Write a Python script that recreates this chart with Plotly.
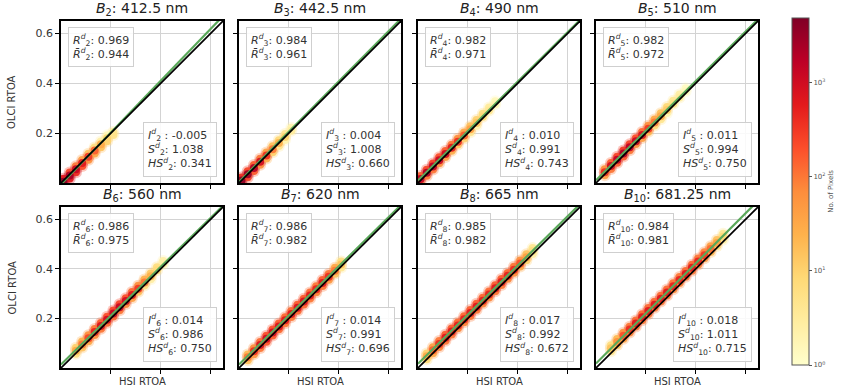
import plotly.graph_objects as go

# ---------------- data ----------------
band_ids = ["2", "3", "4", "5", "6", "7", "8", "10"]
wavelengths = ["412.5", "442.5", "490", "510", "560", "620", "665", "681.25"]
R_vals = [0.969, 0.984, 0.982, 0.982, 0.986, 0.986, 0.985, 0.984]
Rbar_vals = [0.944, 0.961, 0.971, 0.972, 0.975, 0.982, 0.982, 0.981]
I_vals = [-0.005, 0.004, 0.010, 0.011, 0.014, 0.014, 0.017, 0.018]
S_vals = [1.038, 1.008, 0.991, 0.994, 0.986, 0.991, 0.992, 1.011]
HS_vals = [0.341, 0.660, 0.743, 0.750, 0.750, 0.696, 0.672, 0.715]

# density cloud: HSI RTOA stations along the band, band centre offset (OLCI - HSI),
# lane offsets across the band and log10(pixel count) per lane
stations = [
    [0.01, 0.035, 0.06, 0.085, 0.11, 0.135, 0.16, 0.185, 0.21],
    [0.01, 0.035, 0.06, 0.085, 0.11, 0.135, 0.16, 0.185, 0.21],
    [0.01, 0.035, 0.06, 0.085, 0.11, 0.135, 0.16, 0.185, 0.21, 0.235, 0.26, 0.285, 0.31],
    [0.035, 0.06, 0.085, 0.11, 0.135, 0.16, 0.185, 0.21, 0.235, 0.26, 0.285, 0.31, 0.335, 0.36],
    [0.06, 0.085, 0.11, 0.135, 0.16, 0.185, 0.21, 0.235, 0.26, 0.285, 0.31, 0.335, 0.36, 0.385, 0.41],
    [0.035, 0.06, 0.085, 0.11, 0.135, 0.16, 0.185, 0.21, 0.235, 0.26, 0.285, 0.31, 0.335, 0.36, 0.385, 0.41],
    [0.035, 0.06, 0.085, 0.11, 0.135, 0.16, 0.185, 0.21, 0.235, 0.26, 0.285, 0.31, 0.335, 0.36, 0.385, 0.41, 0.435, 0.46],
    [0.06, 0.085, 0.11, 0.135, 0.16, 0.185, 0.21, 0.235, 0.26, 0.285, 0.31, 0.335, 0.36, 0.385, 0.41, 0.435, 0.46, 0.485, 0.51],
]
center_offset = [-0.005, 0.0, 0.006, 0.008, 0.01, 0.008, 0.012, 0.02]
lane_offsets = [0.012, 0.0, -0.012]

log_counts_upper = [
    [2.8, 2.4, 2.0, 1.6, 1.2, 0.8, 0.4, 0.2, None],
    [2.6, 2.4, 2.2, 2.0, 1.6, 1.2, 0.9, 0.6, 0.3],
    [2.2, 2.4, 2.4, 2.3, 2.2, 2.0, 1.8, 1.5, 1.2, 1.0, 0.8, 0.5, 0.2],
    [1.8, 2.2, 2.4, 2.5, 2.4, 2.3, 2.1, 1.8, 1.5, 1.2, 0.9, 0.6, 0.4, 0.1],
    [1.0, 1.4, 1.8, 2.0, 2.2, 2.3, 2.4, 2.4, 2.3, 2.1, 1.8, 1.4, 1.1, 0.8, 0.4],
    [1.3, 1.8, 2.1, 2.3, 2.3, 2.2, 2.1, 2.1, 2.2, 2.2, 2.1, 2.0, 2.2, 2.0, 1.5, 0.8],
    [1.0, 1.6, 2.0, 2.2, 2.2, 2.1, 2.1, 2.2, 2.2, 2.1, 2.1, 2.2, 2.2, 2.1, 2.0, 1.8, 1.2, 0.6],
    [0.8, 1.3, 1.8, 2.0, 2.1, 2.1, 2.1, 2.1, 2.1, 2.1, 2.0, 2.0, 2.1, 2.1, 2.0, 1.9, 1.6, 1.2, 0.6],
]
log_counts_center = [
    [3.6, 3.4, 3.1, 2.8, 2.5, 2.2, 1.5, 1.0, 0.6],
    [3.6, 3.5, 3.3, 3.0, 2.6, 2.0, 1.4, 1.0, 0.5],
    [3.2, 3.3, 3.2, 3.1, 3.0, 2.8, 2.6, 2.2, 1.6, 1.2, 0.9, 0.6, 0.3],
    [2.6, 3.0, 3.2, 3.3, 3.2, 3.1, 2.9, 2.5, 2.0, 1.5, 1.1, 0.8, 0.5, 0.2],
    [1.5, 2.0, 2.4, 2.7, 2.9, 3.0, 3.1, 3.1, 3.0, 2.8, 2.5, 2.0, 1.4, 0.9, 0.4],
    [2.0, 2.6, 2.9, 3.0, 3.0, 2.9, 2.8, 2.8, 2.9, 2.9, 2.8, 2.7, 2.8, 2.6, 2.0, 1.2],
    [1.5, 2.2, 2.6, 2.8, 2.8, 2.7, 2.7, 2.8, 2.8, 2.7, 2.7, 2.8, 2.8, 2.7, 2.6, 2.3, 1.6, 0.8],
    [1.2, 1.8, 2.3, 2.6, 2.8, 2.8, 2.8, 2.8, 2.8, 2.8, 2.7, 2.7, 2.8, 2.8, 2.7, 2.5, 2.1, 1.6, 0.9],
]
log_counts_lower = [
    [3.0, 2.8, 2.6, 2.3, 1.8, 1.5, 1.2, 1.0, 0.7],
    [2.6, 2.4, 2.2, 1.8, 1.4, 1.0, 0.6, 0.3, None],
    [2.0, 2.0, 2.0, 1.8, 1.6, 1.4, 1.2, 1.0, 0.6, 0.3, None, None, None],
    [1.6, 2.0, 2.2, 2.2, 2.0, 1.8, 1.6, 1.3, 0.9, 0.6, 0.3, None, None, None],
    [0.8, 1.2, 1.5, 1.8, 2.0, 2.1, 2.1, 2.0, 1.9, 1.6, 1.2, 0.8, 0.4, None, None],
    [1.2, 1.7, 2.0, 2.2, 2.2, 2.1, 2.0, 2.0, 2.1, 2.1, 2.0, 1.9, 2.0, 1.7, 1.2, 0.6],
    [0.9, 1.5, 1.9, 2.0, 2.0, 1.9, 1.9, 2.0, 2.0, 1.9, 1.9, 2.0, 2.0, 1.9, 1.8, 1.5, 1.0, 0.4],
    [0.7, 1.2, 1.6, 1.9, 2.0, 2.0, 2.0, 2.0, 2.0, 2.0, 1.9, 1.9, 2.0, 2.0, 1.9, 1.7, 1.3, 0.9, 0.4],
]

axis_range = [0.0, 0.65]
y_ticks = [0.2, 0.4, 0.6]
cbar_tickvals = [0, 1, 2, 3]
cbar_ticktext = ["10<sup>0</sup>", "10<sup>1</sup>", "10<sup>2</sup>", "10<sup>3</sup>"]
cbar_max = 3.68

# ---------------- layout helpers ----------------
W, H = 844, 389
col_px = [(61, 223), (239, 401), (418, 580), (596, 758)]
row_px = [(21, 183), (207, 368)]
FONT = "DejaVu Sans"
ylorrd = ['#ffffcc', '#ffeda0', '#fed976', '#feb24c', '#fd8d3c',
          '#fc4e2a', '#e31a1c', '#bd0026', '#800026']

fig = go.Figure()
layout = dict(
    width=W, height=H, margin=dict(l=0, r=0, t=0, b=0),
    paper_bgcolor="white", plot_bgcolor="white", showlegend=False,
    font=dict(family=FONT, color="#222"),
    coloraxis=dict(
        colorscale=[[i / 8, c] for i, c in enumerate(ylorrd)],
        cmin=0, cmax=cbar_max,
        colorbar=dict(
            x=792 / W, xanchor="left", thickness=17, xpad=0, ypad=0,
            y=1 - 191.5 / H, yanchor="middle", len=347 / H, lenmode="fraction",
            outlinecolor="#555", outlinewidth=1,
            tickvals=cbar_tickvals, ticktext=cbar_ticktext,
            ticks="outside", ticklen=3, tickcolor="#555",
            tickfont=dict(size=7, color="#555", family=FONT),
            title=dict(text="No. of Pixels", side="right",
                       font=dict(size=7, color="#555", family=FONT)),
        ),
    ),
)
annotations = []

for p in range(8):
    r, c = divmod(p, 4)
    n = p + 1
    xa = "xaxis" if n == 1 else f"xaxis{n}"
    ya = "yaxis" if n == 1 else f"yaxis{n}"
    xr = "x" if n == 1 else f"x{n}"
    yr = "y" if n == 1 else f"y{n}"
    x0, x1 = col_px[c]
    y0, y1 = row_px[r]
    layout[xa] = dict(
        domain=[x0 / W, x1 / W], range=axis_range, anchor=yr,
        tickvals=y_ticks, showticklabels=False, ticks="outside", ticklen=4,
        tickcolor="black", showgrid=True, gridcolor="#d3d3d3", gridwidth=1,
        showline=True, linecolor="black", linewidth=1.5, mirror=True,
        zeroline=False, fixedrange=True,
    )
    layout[ya] = dict(
        domain=[1 - y1 / H, 1 - y0 / H], range=axis_range, anchor=xr,
        tickvals=y_ticks, showticklabels=(c == 0), ticks="outside", ticklen=4,
        tickcolor="black", tickfont=dict(size=11, color="#333"),
        showgrid=True, gridcolor="#d3d3d3", gridwidth=1,
        showline=True, linecolor="black", linewidth=1.5, mirror=True,
        zeroline=False, fixedrange=True,
    )

    # density cells
    pts = []
    for off, lane in zip(lane_offsets, [log_counts_upper[p], log_counts_center[p], log_counts_lower[p]]):
        for xs, v in zip(stations[p], lane):
            if v is not None:
                pts.append((v, xs, xs + center_offset[p] + off))
    pts.sort()
    px_ = [q[1] for q in pts]
    py_ = [q[2] for q in pts]
    pc_ = [q[0] for q in pts]
    # soft fringe
    fig.add_trace(go.Scatter(
        x=px_, y=py_, mode="markers",
        marker=dict(size=12, color=pc_, coloraxis="coloraxis",
                    line=dict(width=0), opacity=0.3),
        xaxis=xr, yaxis=yr, hoverinfo="skip",
    ))
    # core
    fig.add_trace(go.Scatter(
        x=px_, y=py_, mode="markers",
        marker=dict(size=8, color=pc_, coloraxis="coloraxis",
                    line=dict(width=0), opacity=0.92),
        xaxis=xr, yaxis=yr, hoverinfo="skip",
    ))
    # regression line (green) and 1:1 line (black)
    fig.add_trace(go.Scatter(
        x=axis_range, y=[I_vals[p] + S_vals[p] * v for v in axis_range],
        mode="lines", line=dict(color="#5aa85a", width=2.2),
        xaxis=xr, yaxis=yr, hoverinfo="skip"))
    fig.add_trace(go.Scatter(
        x=axis_range, y=axis_range, mode="lines",
        line=dict(color="black", width=1.7),
        xaxis=xr, yaxis=yr, hoverinfo="skip"))

    b = band_ids[p]
    # title
    annotations.append(dict(
        text=f"<i>B</i><sub>{b}</sub>: {wavelengths[p]} nm",
        xref="paper", yref="paper", x=(x0 + x1) / 2 / W, y=1 - (y0 - 1) / H,
        xanchor="center", yanchor="bottom", showarrow=False,
        font=dict(size=14, color="#222", family=FONT)))
    # upper-left stats box
    annotations.append(dict(
        text=(f"<i>R</i><sup><i>d</i></sup><sub>{b}</sub>: {R_vals[p]:.3f}<br>"
              f"<i>R̄</i><sup><i>d</i></sup><sub>{b}</sub>: {Rbar_vals[p]:.3f}"),
        xref=xr, yref=yr, x=0.028, y=0.624, xanchor="left", yanchor="top",
        align="left", showarrow=False, bgcolor="rgba(255,255,255,0.85)",
        bordercolor="#cfcfcf", borderwidth=1, borderpad=4,
        font=dict(size=11, color="#333", family=FONT)))
    # lower-right stats box
    annotations.append(dict(
        text=(f"<i>I</i><sup><i>d</i></sup><sub>{b}</sub> : {I_vals[p]:.3f}<br>"
              f"<i>S</i><sup><i>d</i></sup><sub>{b}</sub>: {S_vals[p]:.3f}<br>"
              f"<i>HS</i><sup><i>d</i></sup><sub>{b}</sub>: {HS_vals[p]:.3f}"),
        xref=xr, yref=yr, x=0.626, y=0.024, xanchor="right", yanchor="bottom",
        align="left", showarrow=False, bgcolor="rgba(255,255,255,0.85)",
        bordercolor="#cfcfcf", borderwidth=1, borderpad=4,
        font=dict(size=11, color="#333", family=FONT)))

# axis labels
for r in range(2):
    y0, y1 = row_px[r]
    annotations.append(dict(
        text="OLCI RTOA", xref="paper", yref="paper", x=12 / W,
        y=1 - (y0 + y1) / 2 / H, textangle=-90, showarrow=False,
        xanchor="center", yanchor="middle", font=dict(size=10, color="#333", family=FONT)))
for c in range(4):
    x0, x1 = col_px[c]
    annotations.append(dict(
        text="HSI RTOA", xref="paper", yref="paper", x=(x0 + x1) / 2 / W,
        y=1 - 381 / H, showarrow=False, xanchor="center", yanchor="middle",
        font=dict(size=10, color="#333", family=FONT)))

layout["annotations"] = annotations
fig.update_layout(**layout)
fig.write_html("out.html", config={"displayModeBar": False},
               post_script="document.body.style.margin='0';document.body.style.overflow='hidden';")
